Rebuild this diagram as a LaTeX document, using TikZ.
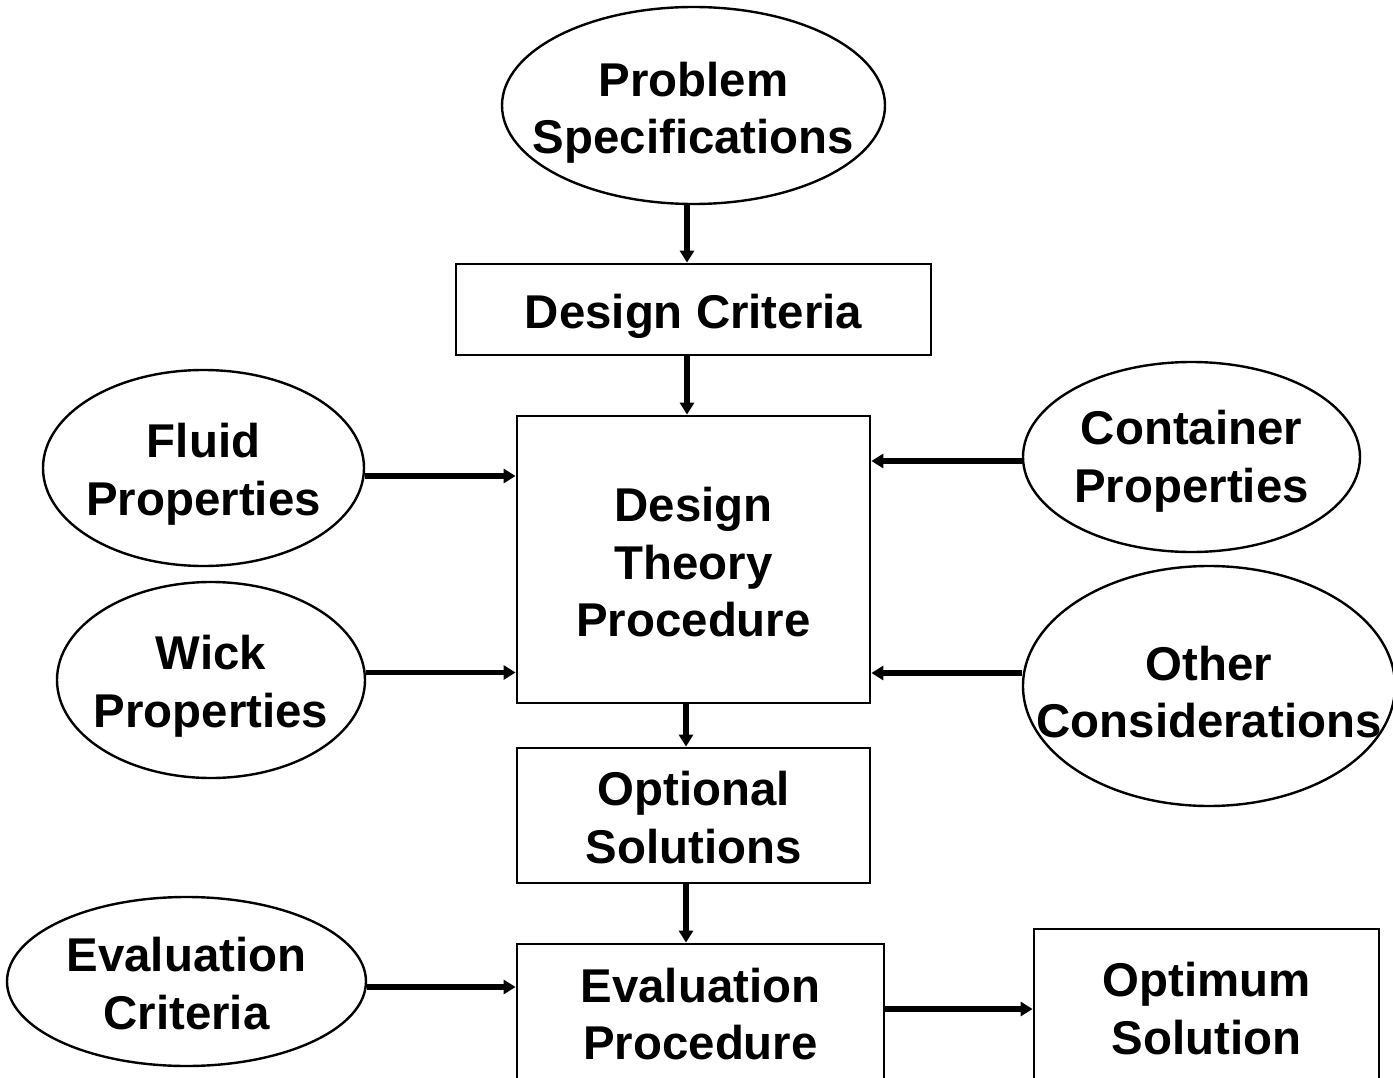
\documentclass[tikz,border=0pt]{standalone}
\usepackage{fontspec}
\setmainfont{Liberation Sans}
\usetikzlibrary{shapes.geometric,arrows.meta}
\begin{document}
\begin{tikzpicture}[x=1pt,y=-1pt,
  lbl/.style={font=\fontsize{47.4}{57.5}\selectfont\bfseries, align=center, inner sep=0pt},
  oval/.style={ellipse, draw, line width=2.4pt, inner sep=0pt},
  box/.style={rectangle, draw, line width=2.8pt, inner sep=0pt},
  arr/.style={line width=5.5pt, -{Triangle[length=12pt,width=14pt]}}]
\useasboundingbox (0,0) rectangle (1393,1078);
\clip (0,0) rectangle (1393,1078);

% central column
\node[oval, minimum width=383pt, minimum height=197pt] (ps) at (693.5,105.5) {};
\node[box, minimum width=475pt, minimum height=91pt] (dc) at (693.5,309.5) {};
\node[box, minimum width=353pt, minimum height=287pt] (dtp) at (693.5,559.5) {};
\node[box, minimum width=353pt, minimum height=135pt] (opt) at (693.5,815.5) {};
\node[box, minimum width=367pt, minimum height=140pt] (ep) at (700.5,1014) {};
\node[box, minimum width=345pt, minimum height=159pt] (opti) at (1206.5,1008.5) {};

% inputs on the left
\node[oval, minimum width=321pt, minimum height=196pt] (fluid) at (203.5,468) {};
\node[oval, minimum width=308pt, minimum height=196pt] (wick) at (211,680) {};
\node[oval, minimum width=359pt, minimum height=169pt] (ec) at (186.5,981.5) {};

% inputs on the right
\node[oval, minimum width=337pt, minimum height=190pt] (cont) at (1191.5,457) {};
\node[oval, minimum width=372pt, minimum height=240pt] (other) at (1209,686) {};

% labels
\node[lbl] (tps) at ([yshift=-7pt]ps) {Problem\\Specifications};
\node[lbl] (tdc) at ([yshift=-7pt]dc) {Design Criteria};
\node[lbl] (tdtp) at ([yshift=-3pt]dtp) {Design\\Theory\\Procedure};
\node[lbl] (topt) at ([yshift=-2pt]opt) {Optional\\Solutions};
\node[lbl] (tep) at (ep) {Evaluation\\Procedure};
\node[lbl] (topti) at (opti) {Optimum\\Solution};
\node[lbl] (tfluid) at ([yshift=-6pt]fluid) {Fluid\\Properties};
\node[lbl] (twick) at ([yshift=-6pt]wick) {Wick\\Properties};
\node[lbl] (tec) at ([yshift=-2pt]ec) {Evaluation\\Criteria};
\node[lbl] (tcont) at ([yshift=-4pt]cont) {Container\\Properties};
\node[lbl] (tother) at ([yshift=-6pt]other) {Other\\Considerations};

% vertical flow
\draw[arr] ([xshift=-6.5pt]ps.south) -- ([xshift=-6.5pt]dc.north);
\draw[arr] ([xshift=-6.5pt]dc.south) -- ([xshift=-6.5pt]dtp.north);
\draw[arr] ([xshift=-7.5pt]dtp.south) -- ([xshift=-7.5pt]opt.north);
\draw[arr] ([xshift=-7.5pt]opt.south) -- ([xshift=-14.5pt]ep.north);

% side inputs
\draw[arr] ([yshift=-8pt]fluid.east) -- ([yshift=-8pt]fluid.east -| dtp.west);
\draw[arr] ([yshift=7.5pt]wick.east) -- ([yshift=7.5pt]wick.east -| dtp.west);
\draw[arr] ([yshift=-4pt]cont.west) -- ([yshift=-4pt]cont.west -| dtp.east);
\draw[arr] ([yshift=13pt]other.west) -- ([yshift=13pt]other.west -| dtp.east);
\draw[arr] ([yshift=-5.5pt]ec.east) -- ([yshift=-5.5pt]ec.east -| ep.west);
\draw[arr] ([yshift=5pt]ep.east) -- ([yshift=5pt]ep.east -| opti.west);
\end{tikzpicture}
\end{document}
